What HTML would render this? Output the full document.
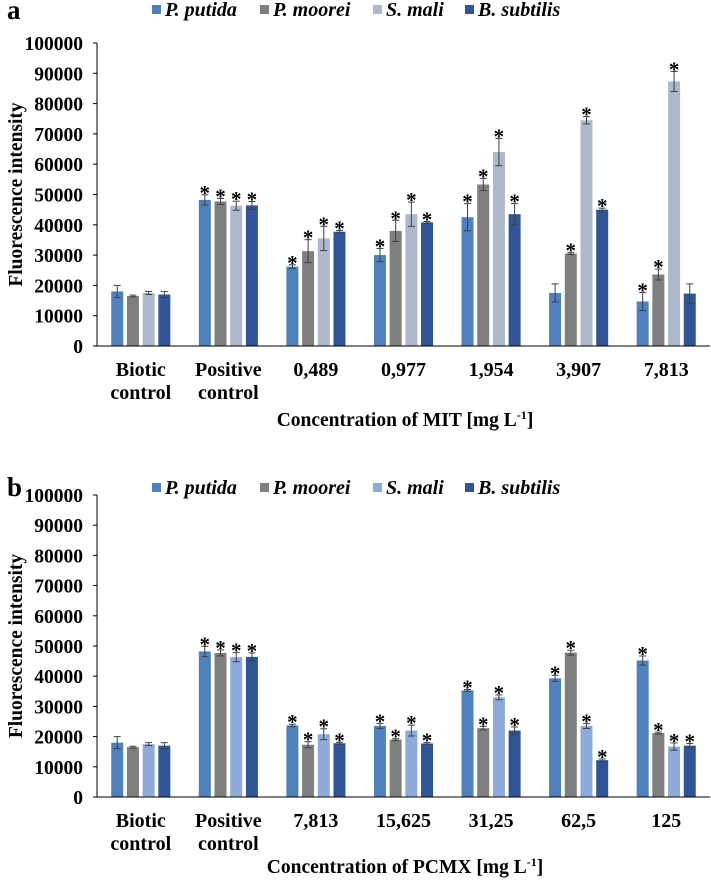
<!DOCTYPE html>
<html><head><meta charset="utf-8">
<style>
html,body{margin:0;padding:0;background:#fff;}
svg{display:block;font-family:"Liberation Serif",serif;font-weight:bold;}
</style></head>
<body>
<svg id="chart" width="711" height="883" viewBox="0 0 711 883" xmlns="http://www.w3.org/2000/svg"></svg>
<script>
const series = ["P. putida","P. moorei","S. mali","B. subtilis"];
const catsA = [["Biotic","control"],["Positive","control"],["0,489"],["0,977"],["1,954"],["3,907"],["7,813"]];
const catsB = [["Biotic","control"],["Positive","control"],["7,813"],["15,625"],["31,25"],["62,5"],["125"]];
const yTicks = [0,10000,20000,30000,40000,50000,60000,70000,80000,90000,100000];
// values [category][series]
const valsA = [[18000,16500,17500,17000],[48200,47700,46300,46400],[26200,31300,35500,37700],[30000,38000,43500,40800],[42500,53300,64000,43500],[17500,30500,74500,45000],[14700,23600,87300,17300]];
const errsA = [[2000,300,500,1000],[1700,1000,1500,1300],[600,3800,4000,400],[2200,3500,4000,300],[4500,2000,4500,3500],[3000,300,1200,500],[3000,1800,3300,3200]];
const starsA = [[0,0,0,0],[1,1,1,1],[1,1,1,1],[1,1,1,1],[1,1,1,1],[0,1,1,1],[1,1,1,0]];
const valsB = [[18000,16500,17500,17000],[48200,47700,46300,46400],[23700,17300,20800,17800],[23500,19000,22000,17700],[35300,22800,33000,22000],[39300,47800,23500,12200],[45200,21200,16700,17000]];
const errsB = [[2000,300,500,1000],[1700,1000,1500,1300],[400,1000,1800,300],[800,300,1800,300],[300,600,800,1200],[1000,800,800,400],[1500,300,1200,700]];
const starsB = [[0,0,0,0],[1,1,1,1],[1,1,1,1],[1,1,1,1],[1,1,1,1],[1,1,1,1],[1,1,1,1]];

const NS="http://www.w3.org/2000/svg";
const svg=document.getElementById('chart');
function mk(tag,attrs,parent,text){const e=document.createElementNS(NS,tag);for(const k in attrs)e.setAttribute(k,attrs[k]);if(text!==undefined)e.textContent=text;(parent||svg).appendChild(e);return e;}

function panel(opt){
  const g=mk('g',{});
  
  
  const y0=opt.y0, y1=opt.y1, axX=97, axEnd=710;
  const yScale=v=>y0-(v/100000)*(y0-y1);
  const groupW=(axEnd-axX)/opt.cats.length;
  const cx=i=>axX+groupW*(i+0.5);
  const L=mk('text',{x:7,y:opt.letterY,'font-size':27,fill:'#000'},g,opt.letter);
  
  
  const lxs=[152,260,373,465];
  series.forEach((s,k)=>{
    const lx=lxs[k];
    const r=mk('rect',{x:lx,y:opt.legY-11,width:9,height:9,fill:opt.colors[k]},g);
    
    
    const t=mk('text',{x:lx+13,y:opt.legY,'font-size':20,'font-style':'italic',fill:'#000'},g,s);
    
    
  });
  yTicks.forEach(v=>{
    const y=yScale(v);
    mk('line',{x1:axX-4,x2:axX,y1:y,y2:y,stroke:'#000','stroke-width':1},g);
    const t=mk('text',{x:83,y:y+7,'text-anchor':'end','font-size':19.5,fill:'#000'},g,String(v));
    
    
  });
  const ya=mk('line',{x1:axX,x2:axX,y1:y1,y2:y0,stroke:'#000','stroke-width':1},g);
  
  
  const bw=12, pitch=15.7;
  opt.cats.forEach((c,i)=>{
    for(let k=0;k<4;k++){
      const x=cx(i)-2*pitch+k*pitch+(pitch-bw)/2;
      const v=opt.vals[i][k], e=opt.errs[i][k];
      const b=mk('rect',{x:x,y:yScale(v),width:bw,height:y0-yScale(v),fill:opt.colors[k]},g);
      
      
      const mx=x+bw/2, yt=yScale(v+e), yb=yScale(v-e);
      mk('line',{x1:mx,x2:mx,y1:yt,y2:yb,stroke:'#404040','stroke-width':1},g);
      mk('line',{x1:mx-3.5,x2:mx+3.5,y1:yt,y2:yt,stroke:'#404040','stroke-width':1},g);
      mk('line',{x1:mx-3.5,x2:mx+3.5,y1:yb,y2:yb,stroke:'#404040','stroke-width':1},g);
      if(opt.stars[i][k]){
        const s=mk('text',{x:mx,y:yt+5,'text-anchor':'middle','font-size':21,fill:'#000'},g,'*');
        
        
      }
    }
    c.forEach((line,j)=>{
      const t=mk('text',{x:cx(i),y:y0+30+j*23,'text-anchor':'middle','font-size':20,fill:'#000'},g,line);
      
      
    });
  });
  const xa=mk('line',{x1:axX,x2:axEnd,y1:y0,y2:y0,stroke:'#000','stroke-width':1},g);
  
  
  const xt=mk('text',{x:405,y:opt.xTitleY,'text-anchor':'middle','font-size':19.5,fill:'#000'},g);
  
  
  xt.appendChild(document.createTextNode(opt.xTitle+' [mg L'));
  mk('tspan',{dy:-7,'font-size':12},xt,'-1');
  mk('tspan',{dy:7},xt,']');
  const yt=mk('text',{x:0,y:0,'text-anchor':'middle','font-size':19.5,fill:'#000',transform:`translate(22,${(y0+y1)/2}) rotate(-90)`},g,'Fluorescence intensity');
  
  
}
panel({name:'panel-a-mit',letter:'a',letterY:19,legY:16,y0:346,y1:43,cats:catsA,vals:valsA,errs:errsA,stars:starsA,
  colors:['#4f81bd','#7f7f7f','#adb9ca','#2f5597'],xTitle:'Concentration of MIT',xTitleY:426});
panel({name:'panel-b-pcmx',letter:'b',letterY:496,legY:494,y0:797,y1:495,cats:catsB,vals:valsB,errs:errsB,stars:starsB,
  colors:['#4f81bd','#7f7f7f','#8eaadb','#2f5597'],xTitle:'Concentration of PCMX',xTitleY:873});
</script>
</body></html>
